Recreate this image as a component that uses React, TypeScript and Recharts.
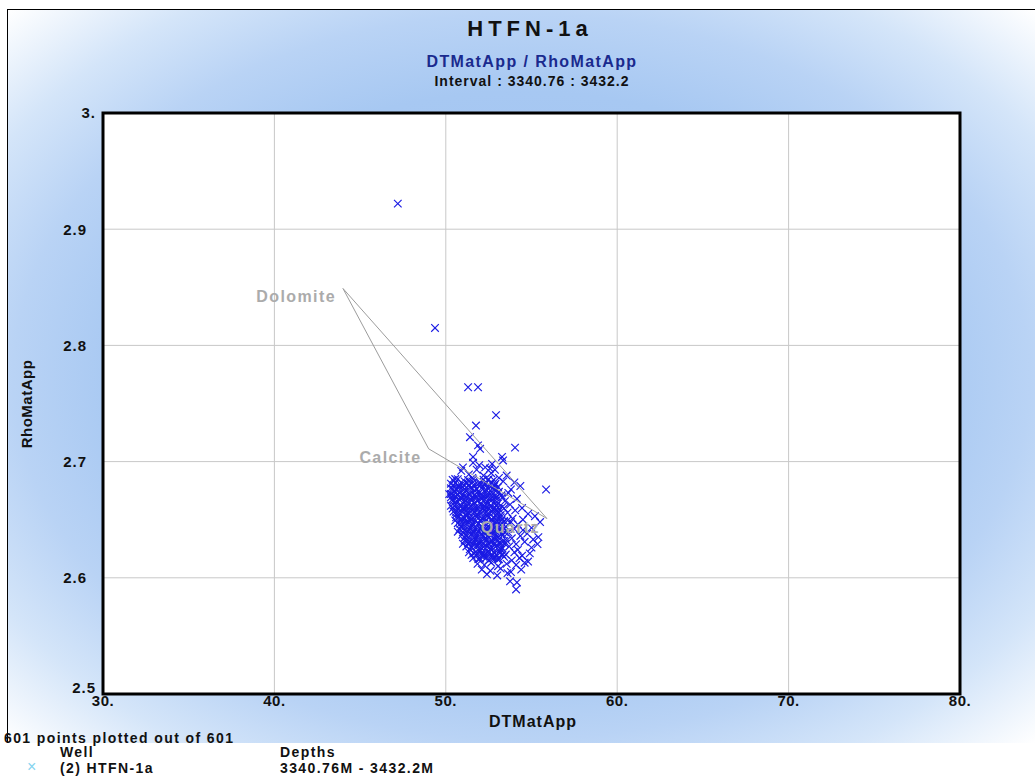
import React from 'react';
import { ScatterChart, Scatter, XAxis, YAxis, CartesianGrid, ReferenceArea } from 'recharts';

const FONT = '"Liberation Sans", Arial, Helvetica, sans-serif';

const xTicks = [30, 40, 50, 60, 70, 80];
const yTicks = [2.5, 2.6, 2.7, 2.8, 2.9, 3.0];

const mineralNames = ['Dolomite', 'Calcite', 'Quartz'];
const mineralDt = [44.0, 49.0, 55.9];
const mineralRho = [2.849, 2.711, 2.651];

const outlierPoints: number[][] = [
  [47.2, 2.922], [49.37, 2.815], [51.3, 2.764], [51.88, 2.764], [52.93, 2.740],
  [51.76, 2.731], [51.41, 2.721], [51.88, 2.714], [52.0, 2.711], [54.04, 2.712],
  [51.59, 2.704], [53.28, 2.704], [51.59, 2.699], [53.34, 2.701], [51.0, 2.695],
  [52.58, 2.694], [52.87, 2.693], [55.85, 2.676], [53.75, 2.597], [54.15, 2.596],
  [54.1, 2.590],
];

const topBandPoints: number[][] = [
  [50.9, 2.692], [51.35, 2.689], [51.8, 2.693], [52.2, 2.688], [52.65, 2.690], [53.1, 2.686],
  [53.55, 2.688], [50.55, 2.685], [51.1, 2.683], [51.55, 2.686], [52.0, 2.682], [52.45, 2.684],
  [52.9, 2.681], [53.35, 2.683], [54.0, 2.682], [51.95, 2.697], [52.3, 2.695], [50.75, 2.679],
  [51.35, 2.680], [53.05, 2.678], [53.8, 2.676], [54.35, 2.679], [50.3, 2.681], [52.7, 2.698],
];

const clusterPoints: number[][] = [
  [50.3, 2.677], [50.6, 2.676], [50.95, 2.678], [51.2, 2.675], [51.55, 2.677], [51.8, 2.676], [52.15, 2.678], [52.4, 2.675], [52.75, 2.677], [53.1, 2.674],
  [50.2, 2.672], [50.45, 2.671], [50.8, 2.673], [51.05, 2.670], [51.4, 2.672], [51.65, 2.671], [51.95, 2.673], [52.25, 2.670], [52.6, 2.672], [52.9, 2.669], [53.25, 2.671], [53.65, 2.673],
  [50.35, 2.667], [50.65, 2.666], [50.9, 2.668], [51.25, 2.665], [51.5, 2.667], [51.85, 2.666], [52.1, 2.668], [52.45, 2.665], [52.7, 2.667], [53.05, 2.664], [53.45, 2.666], [54.15, 2.668],
  [50.3, 2.662], [50.6, 2.661], [50.85, 2.663], [51.15, 2.660], [51.45, 2.662], [51.75, 2.661], [52.05, 2.663], [52.35, 2.660], [52.65, 2.662], [52.95, 2.659], [53.3, 2.661], [53.75, 2.663], [54.45, 2.660],
  [50.45, 2.657], [50.75, 2.656], [51.05, 2.658], [51.35, 2.655], [51.65, 2.657], [51.95, 2.656], [52.25, 2.658], [52.55, 2.655], [52.85, 2.657], [53.2, 2.654], [53.6, 2.656], [54.05, 2.658], [54.8, 2.655],
  [50.6, 2.652], [50.9, 2.651], [51.2, 2.653], [51.5, 2.650], [51.8, 2.652], [52.1, 2.651], [52.4, 2.653], [52.7, 2.650], [53.0, 2.652], [53.4, 2.649], [53.9, 2.651], [55.2, 2.653], [54.5, 2.650],
  [50.7, 2.647], [51.0, 2.646], [51.3, 2.648], [51.6, 2.645], [51.9, 2.647], [52.2, 2.646], [52.5, 2.648], [52.8, 2.645], [53.1, 2.647], [53.5, 2.644], [54.2, 2.646], [55.5, 2.648], [53.8, 2.648],
  [50.8, 2.642], [51.1, 2.641], [51.4, 2.643], [51.7, 2.640], [52.0, 2.642], [52.3, 2.641], [52.6, 2.643], [52.9, 2.640], [53.2, 2.642], [53.65, 2.639], [54.5, 2.641], [55.0, 2.643], [54.0, 2.642],
  [50.95, 2.637], [51.25, 2.636], [51.55, 2.638], [51.85, 2.635], [52.15, 2.637], [52.45, 2.636], [52.75, 2.638], [53.05, 2.635], [53.35, 2.637], [53.85, 2.634], [54.35, 2.636], [54.75, 2.638], [55.4, 2.635],
  [51.1, 2.632], [51.4, 2.631], [51.7, 2.633], [52.0, 2.630], [52.3, 2.632], [52.6, 2.631], [52.9, 2.633], [53.2, 2.630], [53.55, 2.632], [54.1, 2.629], [54.6, 2.631], [55.1, 2.633],
  [51.2, 2.627], [51.5, 2.626], [51.8, 2.628], [52.1, 2.625], [52.4, 2.627], [52.7, 2.626], [53.0, 2.628], [53.3, 2.625], [53.7, 2.627], [54.2, 2.624], [55.0, 2.626], [55.35, 2.629],
  [51.35, 2.622], [51.65, 2.621], [51.95, 2.623], [52.25, 2.620], [52.55, 2.622], [52.85, 2.621], [53.15, 2.623], [53.5, 2.620], [54.0, 2.622], [54.45, 2.619], [54.9, 2.621],
  [51.6, 2.617], [51.9, 2.616], [52.2, 2.618], [52.5, 2.615], [52.8, 2.617], [53.1, 2.616], [53.4, 2.618], [53.85, 2.615], [54.3, 2.617], [54.8, 2.614],
  [51.85, 2.612], [52.25, 2.611], [52.65, 2.613], [53.05, 2.610], [53.55, 2.612], [54.1, 2.611], [54.6, 2.613],
  [52.1, 2.607], [52.6, 2.606], [53.2, 2.608], [53.8, 2.605], [54.4, 2.607],
  [52.4, 2.603], [53.0, 2.602], [53.6, 2.604],
];

const coreFillPoints: number[][] = [
  [50.5, 2.6745], [51.1, 2.6742], [51.7, 2.6748], [52.3, 2.6744], [52.9, 2.6747],
  [50.5, 2.6645], [51.1, 2.6648], [51.7, 2.6642], [52.3, 2.6646], [52.9, 2.6643],
  [50.6, 2.6545], [51.2, 2.6541], [51.8, 2.6548], [52.4, 2.6544], [53.0, 2.6547],
  [50.9, 2.6445], [51.5, 2.6449], [52.1, 2.6442], [52.7, 2.6446], [53.3, 2.6443],
  [51.1, 2.6345], [51.7, 2.6348], [52.3, 2.6341], [52.9, 2.6346],
  [51.4, 2.6245], [52.0, 2.6242], [52.6, 2.6248], [53.2, 2.6244],
];

const denseCorePoints: number[][] = [
  [50.4, 2.6843], [50.7, 2.6849], [51.3, 2.6841], [51.6, 2.6847], [52.2, 2.6844], [52.5, 2.6848], [52.8, 2.6842],
  [50.45, 2.6797], [50.75, 2.6792], [51.05, 2.6798], [51.35, 2.6793], [51.65, 2.6796], [51.95, 2.6791], [52.25, 2.6799], [52.55, 2.6794], [52.85, 2.6797],
  [50.3, 2.6693], [50.6, 2.6698], [50.9, 2.6692], [51.2, 2.6697], [51.5, 2.6691], [51.8, 2.6696], [52.1, 2.6694], [52.4, 2.6699], [52.7, 2.6692], [53.0, 2.6697], [53.3, 2.6693],
  [50.4, 2.6597], [50.7, 2.6592], [51.0, 2.6598], [51.3, 2.6593], [51.6, 2.6596], [51.9, 2.6591], [52.2, 2.6599], [52.5, 2.6594], [52.8, 2.6597], [53.1, 2.6592], [53.4, 2.6598],
  [50.55, 2.6493], [50.85, 2.6498], [51.15, 2.6492], [51.45, 2.6497], [51.75, 2.6491], [52.05, 2.6496], [52.35, 2.6494], [52.65, 2.6499], [52.95, 2.6492], [53.25, 2.6497], [53.6, 2.6493],
  [50.7, 2.6397], [51.0, 2.6392], [51.3, 2.6398], [51.6, 2.6393], [51.9, 2.6396], [52.2, 2.6391], [52.5, 2.6399], [52.8, 2.6394], [53.1, 2.6397], [53.45, 2.6392],
  [51.0, 2.6293], [51.3, 2.6298], [51.6, 2.6292], [51.9, 2.6297], [52.2, 2.6291], [52.5, 2.6296], [52.8, 2.6294], [53.1, 2.6299], [53.45, 2.6292],
  [51.5, 2.6197], [51.8, 2.6192], [52.1, 2.6198], [52.4, 2.6193], [52.7, 2.6196], [53.0, 2.6191], [53.3, 2.6199],
];

const extraCorePoints: number[][] = [
  [50.55, 2.6816], [50.9, 2.6821], [51.25, 2.6814], [51.6, 2.6823], [51.95, 2.6817], [52.3, 2.6812], [52.65, 2.6820],
  [50.4, 2.6766], [50.75, 2.6771], [51.1, 2.6764], [51.45, 2.6773], [51.8, 2.6767], [52.15, 2.6762], [52.5, 2.6770], [52.85, 2.6765],
  [50.3, 2.6721], [50.65, 2.6715], [51.0, 2.6719], [51.35, 2.6724], [51.7, 2.6713], [52.05, 2.6720], [52.4, 2.6716], [52.75, 2.6722],
  [50.45, 2.6665], [50.8, 2.6671], [51.15, 2.6667], [51.5, 2.6662], [51.85, 2.6670], [52.2, 2.6664], [52.55, 2.6673], [52.9, 2.6666],
  [50.5, 2.6621], [50.85, 2.6615], [51.2, 2.6619], [51.55, 2.6624], [51.9, 2.6613], [52.25, 2.6620], [52.6, 2.6616], [52.95, 2.6622],
  [50.6, 2.6565], [50.95, 2.6571], [51.3, 2.6567], [51.65, 2.6562], [52.0, 2.6570], [52.35, 2.6564], [52.7, 2.6573], [53.05, 2.6566],
  [50.75, 2.6521], [51.1, 2.6515], [51.45, 2.6519], [51.8, 2.6524], [52.15, 2.6513], [52.5, 2.6520], [52.85, 2.6516], [53.2, 2.6522],
  [50.85, 2.6465], [51.2, 2.6471], [51.55, 2.6467], [51.9, 2.6462], [52.25, 2.6470], [52.6, 2.6464], [52.95, 2.6473], [53.3, 2.6466],
  [51.0, 2.6421], [51.35, 2.6415], [51.7, 2.6419], [52.05, 2.6424], [52.4, 2.6413], [52.75, 2.6420], [53.1, 2.6416], [53.4, 2.6422],
  [51.15, 2.6365], [51.5, 2.6371], [51.85, 2.6367], [52.2, 2.6362], [52.55, 2.6370], [52.9, 2.6364], [53.25, 2.6373],
  [51.3, 2.6321], [51.65, 2.6315], [52.0, 2.6319], [52.35, 2.6324], [52.7, 2.6313], [53.05, 2.6320], [53.4, 2.6316],
  [51.5, 2.6265], [51.85, 2.6271], [52.2, 2.6267], [52.55, 2.6262], [52.9, 2.6270], [53.25, 2.6264],
  [51.75, 2.6221], [52.1, 2.6215], [52.45, 2.6219], [52.8, 2.6224], [53.15, 2.6213],
  [52.0, 2.6165], [52.35, 2.6171], [52.7, 2.6167], [53.0, 2.6162],
];

const samplePoints = [
  ...outlierPoints,
  ...topBandPoints,
  ...clusterPoints,
  ...coreFillPoints,
  ...denseCorePoints,
  ...extraCorePoints,
].map(([dt, rho]) => ({ dt, rho }));
const trianglePoints = [0, 1, 2, 0].map((i) => ({ dt: mineralDt[i], rho: mineralRho[i] }));
const mineralPoints = mineralNames.map((name, i) => ({ name, dt: mineralDt[i], rho: mineralRho[i] }));

const Cross = (props: any) => {
  const { cx, cy } = props;
  if (cx == null || cy == null) return <g />;
  const s = 3.8;
  return (
    <g stroke="#1a1ae4" strokeWidth={1.15}>
      <line x1={cx - s} y1={cy - s} x2={cx + s} y2={cy + s} />
      <line x1={cx - s} y1={cy + s} x2={cx + s} y2={cy - s} />
    </g>
  );
};

const NoShape = () => <g />;

const MineralLabel = (props: any) => {
  const { cx, cy } = props;
  const name = props.payload?.name ?? props.name;
  return (
    <text x={cx - 7} y={cy + 14} textAnchor="end" fontFamily={FONT} fontSize={16} fontWeight="bold" fill="#ababab" letterSpacing={1.4}>
      {name}
    </text>
  );
};

const XTick = (props: any) => {
  const { x, y, payload } = props;
  return (
    <text x={x} y={y} dy="0.71em" textAnchor="middle" fontFamily={FONT} fontSize={15} fontWeight="bold" fill="#111" letterSpacing={0.5}>
      {`${payload.value}.`}
    </text>
  );
};

const YTick = (props: any) => {
  const { x, y, payload } = props;
  const v = payload.value as number;
  const label = v === 3 ? '3.' : v.toFixed(1);
  let end = x - 16;
  let yy = y;
  if (v === 3) end = x - 7;
  if (v === 2.5) { end = x - 7; yy = y - 6; }
  return (
    <text x={end} y={yy} dy="0.36em" textAnchor="end" fontFamily={FONT} fontSize={15} fontWeight="bold" fill="#111" letterSpacing={1}>
      {label}
    </text>
  );
};

const textBase: React.CSSProperties = {
  position: 'absolute',
  fontFamily: FONT,
  fontWeight: 'bold',
  whiteSpace: 'nowrap',
  lineHeight: 1,
};

const legendText: React.CSSProperties = { ...textBase, fontSize: 14, letterSpacing: 1.4, color: '#111' };

export default function App() {
  return (
    <div style={{ position: 'absolute', left: 0, top: 0, width: 1035, height: 776, background: '#fff', overflow: 'hidden' }}>
      <div
        style={{
          position: 'absolute',
          left: 7,
          top: 9,
          width: 1028,
          height: 734,
          borderTop: '1px solid #000',
          borderLeft: '1px solid #000',
          boxSizing: 'border-box',
          background:
            'radial-gradient(ellipse farthest-corner at 50% 50%, #9cbff0 0%, #a7c8f2 55%, #b9d3f5 70%, #d4e5f9 84%, #ffffff 100%)',
        }}
      />
      <div style={{ ...textBase, left: 0, width: 1060, top: 18, textAlign: 'center', fontSize: 22, letterSpacing: 5, color: '#111' }}>
        HTFN-1a
      </div>
      <div style={{ ...textBase, left: 0, width: 1064, top: 54, textAlign: 'center', fontSize: 16, letterSpacing: 1.4, color: '#1a2a8e' }}>
        DTMatApp / RhoMatApp
      </div>
      <div style={{ ...textBase, left: 0, width: 1064, top: 74, textAlign: 'center', fontSize: 14, letterSpacing: 1, color: '#111' }}>
        Interval : 3340.76 : 3432.2
      </div>
      <div style={{ position: 'absolute', left: 0, top: 0 }}>
        <ScatterChart width={1035} height={776} margin={{ top: 113, right: 75, bottom: 52, left: 43 }}>
          <CartesianGrid fill="#ffffff" stroke="#c8c8c8" strokeWidth={1} />
          <XAxis
            dataKey="dt"
            type="number"
            domain={[30, 80]}
            ticks={xTicks}
            axisLine={false}
            tickLine={false}
            tickSize={0}
            tickMargin={1}
            height={30}
            tick={XTick}
            interval={0}
            allowDataOverflow
          />
          <YAxis
            dataKey="rho"
            type="number"
            domain={[2.5, 3]}
            ticks={yTicks}
            axisLine={false}
            tickLine={false}
            tickSize={0}
            tickMargin={0}
            width={60}
            tick={YTick}
            interval={0}
            allowDataOverflow
          />
          <Scatter data={samplePoints} shape={<Cross />} isAnimationActive={false} />
          <Scatter data={trianglePoints} line={{ stroke: '#9c9c9c', strokeWidth: 1 }} shape={<NoShape />} isAnimationActive={false} />
          <Scatter data={mineralPoints} shape={<MineralLabel />} isAnimationActive={false} />
          <ReferenceArea x1={30} x2={80} y1={2.5} y2={3} fill="none" stroke="#000" strokeWidth={3} ifOverflow="visible" />
        </ScatterChart>
      </div>
      <div style={{ ...textBase, left: 463, width: 140, top: 714, textAlign: 'center', fontSize: 16, letterSpacing: 1, color: '#111' }}>
        DTMatApp
      </div>
      <div
        style={{
          ...textBase,
          left: 26,
          top: 404,
          fontSize: 15,
          letterSpacing: 0.5,
          color: '#111',
          transform: 'translate(-50%, -50%) rotate(-90deg)',
        }}
      >
        RhoMatApp
      </div>
      <div style={{ ...legendText, left: 4, top: 731 }}>601 points plotted out of 601</div>
      <div style={{ ...legendText, left: 60, top: 745 }}>Well</div>
      <div style={{ ...legendText, left: 280, top: 745 }}>Depths</div>
      <div style={{ ...textBase, left: 27, top: 759, fontSize: 16, fontWeight: 'normal', color: '#86d4f0' }}>×</div>
      <div style={{ ...legendText, left: 60, top: 761 }}>(2) HTFN-1a</div>
      <div style={{ ...legendText, left: 280, top: 761 }}>3340.76M - 3432.2M</div>
    </div>
  );
}
